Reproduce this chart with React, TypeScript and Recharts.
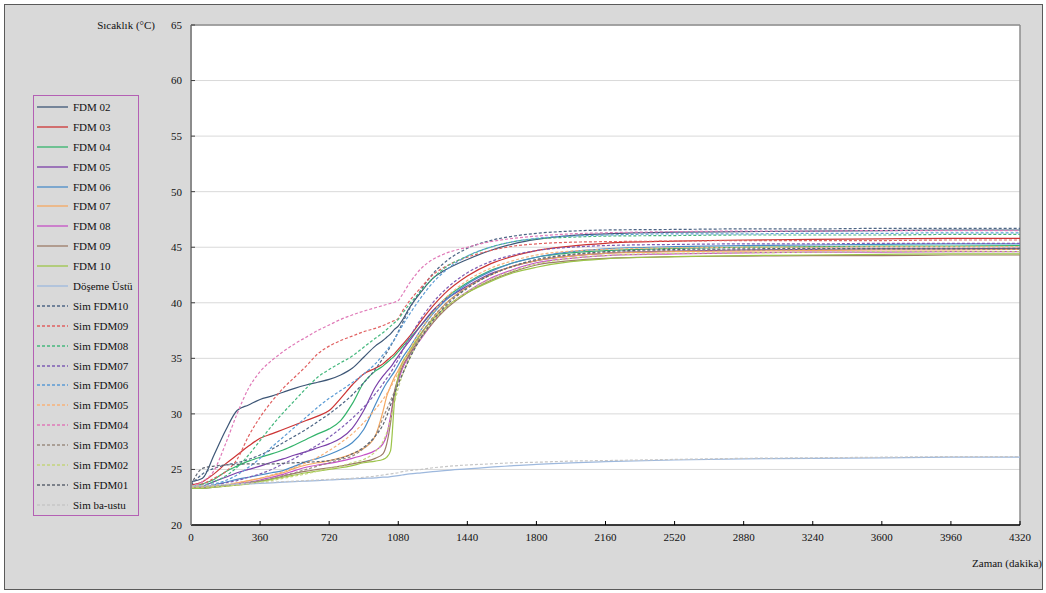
import { CartesianGrid, Legend, Line, LineChart, ReferenceLine, XAxis, YAxis } from 'recharts';

// zaman (dakika)
const times = [0, 60, 120, 180, 240, 300, 360, 420, 480, 540, 600, 660, 720, 780, 840, 900, 960, 1000, 1020, 1040, 1060, 1080, 1100, 1140, 1200, 1260, 1320, 1440, 1560, 1680, 1800, 1980, 2160, 2520, 2880, 3240, 3600, 3960, 4320];

const xTicks = [0, 360, 720, 1080, 1440, 1800, 2160, 2520, 2880, 3240, 3600, 3960, 4320];
const yTicks = [20, 25, 30, 35, 40, 45, 50, 55, 60, 65];

// ölçülen sıcaklıklar (°C)
const fdm02 = [23.9, 24.2, 26.3, 28.5, 30.3, 30.8, 31.3, 31.6, 31.95, 32.3, 32.6, 32.85, 33.1, 33.5, 34.1, 35.1, 36.1, 36.6, 36.9, 37.2, 37.6, 37.9, 38.4, 39.6, 41.0, 42.2, 42.9, 43.9, 44.7, 45.3, 45.7, 46.05, 46.2, 46.35, 46.4, 46.45, 46.5, 46.55, 46.55];
const fdm03 = [23.6, 23.9, 24.6, 25.5, 26.3, 27.1, 27.8, 28.2, 28.6, 29.0, 29.4, 29.8, 30.3, 31.4, 32.6, 33.6, 34.1, 34.5, 34.8, 35.1, 35.4, 35.8, 36.2, 37.0, 38.4, 39.7, 40.8, 42.4, 43.5, 44.2, 44.7, 45.1, 45.35, 45.55, 45.65, 45.7, 45.75, 45.8, 45.8];
const fdm04 = [23.4, 23.7, 24.1, 24.8, 25.3, 25.75, 26.1, 26.4, 26.75, 27.2, 27.7, 28.2, 28.65, 29.4, 30.9, 32.8, 33.85, 34.3, 34.6, 34.9, 35.2, 35.6, 36.0, 36.8, 38.0, 39.2, 40.3, 41.8, 42.9, 43.6, 44.1, 44.5, 44.7, 44.9, 45.0, 45.05, 45.1, 45.1, 45.15];
const fdm05 = [23.4, 23.5, 23.9, 24.3, 24.7, 25.0, 25.3, 25.65, 25.95, 26.3, 26.6, 26.95, 27.3, 27.8, 28.7, 30.3, 32.4, 33.4, 33.8, 34.2, 34.7, 35.2, 35.7, 36.6, 38.0, 39.3, 40.2, 41.5, 42.6, 43.3, 43.8, 44.2, 44.45, 44.65, 44.75, 44.8, 44.85, 44.85, 44.9];
const fdm06 = [23.4, 23.4, 23.6, 23.85, 24.1, 24.3, 24.5, 24.7, 24.9, 25.3, 25.7, 26.0, 26.35, 26.8, 27.4, 28.6, 30.8, 32.2, 32.8, 33.3, 33.8, 34.4, 35.0, 36.0, 37.6, 39.0, 40.1, 41.7, 42.8, 43.6, 44.1, 44.6, 44.85, 45.05, 45.15, 45.2, 45.25, 45.3, 45.3];
const fdm07 = [23.4, 23.4, 23.5, 23.6, 23.8, 24.0, 24.2, 24.45, 24.7, 25.1, 25.4, 25.6, 25.8, 26.05, 26.4, 26.9, 28.0, 30.2, 31.6, 32.5, 33.3, 33.9, 34.6, 35.6, 37.2, 38.6, 39.8, 41.4, 42.5, 43.3, 43.8, 44.2, 44.45, 44.6, 44.65, 44.7, 44.75, 44.75, 44.8];
const fdm08 = [23.3, 23.35, 23.45, 23.55, 23.7, 23.85, 24.05, 24.3, 24.55, 24.9, 25.2, 25.4, 25.55, 25.75, 26.0, 26.3, 26.7, 27.3, 28.1, 29.8, 31.8, 33.0, 34.0, 35.3, 36.8, 38.2, 39.4, 41.0, 42.2, 43.0, 43.6, 44.0, 44.25, 44.4, 44.5, 44.55, 44.55, 44.6, 44.6];
const fdm09 = [23.3, 23.3, 23.4, 23.5, 23.6, 23.75, 23.95, 24.15, 24.4, 24.65, 24.85, 25.0, 25.15, 25.3, 25.5, 25.7, 26.0, 26.4, 27.3, 29.2, 32.0, 33.2, 34.2, 35.4, 36.9, 38.2, 39.3, 40.9, 42.0, 42.8, 43.4, 43.8, 44.0, 44.15, 44.2, 44.25, 44.25, 44.3, 44.3];
const fdm10 = [23.3, 23.3, 23.4, 23.5, 23.6, 23.7, 23.9, 24.1, 24.3, 24.5, 24.7, 24.85, 25.0, 25.15, 25.35, 25.6, 25.75, 25.9, 26.1, 26.7, 31.0, 33.4, 34.5, 35.7, 37.3, 38.5, 39.5, 40.9, 41.9, 42.7, 43.2, 43.7, 43.95, 44.15, 44.25, 44.3, 44.35, 44.4, 44.4];
const doseme = [23.5, 23.5, 23.55, 23.6, 23.65, 23.7, 23.75, 23.8, 23.85, 23.9, 23.95, 24.0, 24.05, 24.1, 24.15, 24.2, 24.25, 24.3, 24.3, 24.35, 24.4, 24.45, 24.5, 24.6, 24.7, 24.8, 24.9, 25.05, 25.2, 25.35, 25.45, 25.6, 25.7, 25.85, 25.95, 26.0, 26.05, 26.1, 26.1];

// simülasyon sonuçları (°C)
const simFdm10 = [23.6, 24.6, 25.1, 25.4, 25.6, 25.9, 26.3, 26.8, 27.4, 28.0, 28.6, 29.3, 30.0, 30.8, 31.7, 32.8, 34.0, 35.0, 35.5, 36.1, 36.7, 37.4, 38.1, 39.5, 41.2, 42.6, 43.6, 44.9, 45.6, 46.0, 46.25, 46.45, 46.55, 46.6, 46.65, 46.65, 46.7, 46.7, 46.7];
const simFdm09 = [23.5, 23.7, 24.2, 24.8, 25.9, 28.0, 29.7, 31.1, 32.3, 33.3, 34.3, 35.4, 36.1, 36.6, 37.0, 37.4, 37.7, 37.95, 38.1, 38.25, 38.4, 38.6, 39.2, 40.2, 41.4, 42.5, 43.2, 44.1, 44.7, 45.1, 45.3, 45.45, 45.5, 45.55, 45.6, 45.6, 45.6, 45.65, 45.65];
const simFdm08 = [23.5, 23.6, 23.9, 24.4, 25.2, 26.3, 27.6, 28.9, 30.1, 31.2, 32.3, 33.3, 34.0, 34.6, 35.2, 36.0, 36.8, 37.3, 37.6, 37.9, 38.2, 38.5, 39.0, 39.9, 41.1, 42.2, 43.1, 44.2, 45.0, 45.5, 45.75, 45.9, 46.0, 46.05, 46.1, 46.1, 46.1, 46.15, 46.15];
const simFdm07 = [23.5, 23.5, 23.6, 23.8, 24.0, 24.3, 24.6, 25.0, 25.5, 26.0, 26.6, 27.2, 27.9, 28.7, 29.6, 30.6, 31.8, 32.7, 33.2, 33.7, 34.3, 34.9, 35.6, 36.9, 38.6, 40.0, 41.1, 42.7, 43.7, 44.3, 44.7, 45.0, 45.15, 45.25, 45.3, 45.3, 45.35, 45.35, 45.35];
const simFdm06 = [23.5, 23.55, 23.7, 24.0, 24.5, 25.2, 26.0, 27.0, 27.9, 28.8, 29.7, 30.6, 31.4, 32.1, 32.8, 33.6, 34.5, 35.3, 35.7, 36.2, 36.7, 37.3, 37.9, 39.0, 40.5, 41.8, 42.8, 44.2, 45.0, 45.5, 45.8, 46.0, 46.1, 46.2, 46.2, 46.25, 46.25, 46.3, 46.3];
const simFdm05 = [23.5, 23.5, 23.55, 23.65, 23.8, 24.0, 24.2, 24.5, 24.8, 25.2, 25.6, 26.1, 26.7, 27.4, 28.2, 29.2, 30.4, 31.3, 31.8, 32.4, 33.0, 33.7, 34.4, 35.8, 37.6, 39.1, 40.3, 42.0, 43.1, 43.8, 44.3, 44.65, 44.8, 44.95, 45.0, 45.0, 45.05, 45.05, 45.05];
const simFdm04 = [23.5, 23.9, 24.9, 27.3, 30.0, 32.3, 33.8, 34.8, 35.6, 36.3, 36.9, 37.5, 38.0, 38.5, 38.9, 39.25, 39.55, 39.75, 39.85, 39.95, 40.05, 40.2, 40.7, 41.8, 43.1, 43.9, 44.4, 45.0, 45.5, 45.8, 46.0, 46.2, 46.3, 46.4, 46.45, 46.45, 46.5, 46.5, 46.5];
const simFdm03 = [23.5, 23.5, 23.5, 23.6, 23.7, 23.85, 24.0, 24.2, 24.45, 24.7, 25.0, 25.3, 25.6, 25.9, 26.2, 26.9, 28.0, 29.6, 30.4, 31.2, 32.0, 32.8, 33.5, 35.2, 37.2, 38.7, 39.8, 41.4, 42.5, 43.3, 43.8, 44.3, 44.5, 44.7, 44.75, 44.8, 44.8, 44.8, 44.8];
const simFdm02 = [23.4, 23.4, 23.45, 23.5, 23.6, 23.7, 23.85, 24.0, 24.2, 24.4, 24.6, 24.85, 25.1, 25.3, 25.6, 25.9, 26.6, 27.5, 28.3, 29.5, 31.0, 32.3, 33.4, 35.0, 36.9, 38.3, 39.4, 41.0, 42.1, 42.9, 43.5, 44.0, 44.25, 44.45, 44.5, 44.55, 44.6, 44.6, 44.6];
const simFdm01 = [23.6, 25.1, 25.3, 25.4, 25.45, 25.5, 25.5, 25.5, 25.55, 25.6, 25.65, 25.7, 25.8, 26.0, 26.4, 27.0, 28.0, 29.0, 29.8, 30.8, 31.8, 32.7, 33.5, 35.0, 36.9, 38.4, 39.6, 41.3, 42.5, 43.3, 43.9, 44.35, 44.6, 44.8, 44.85, 44.9, 44.9, 44.9, 44.9];
const simBaUstu = [23.5, 23.55, 23.6, 23.65, 23.7, 23.75, 23.8, 23.85, 23.9, 23.95, 24.0, 24.05, 24.1, 24.15, 24.2, 24.3, 24.4, 24.5, 24.55, 24.6, 24.65, 24.7, 24.8, 24.9, 25.0, 25.15, 25.25, 25.4, 25.5, 25.6, 25.65, 25.75, 25.8, 25.9, 26.0, 26.05, 26.1, 26.15, 26.15];

const DASH = '3 2';

const series = [
  { key: 'fdm02', name: 'FDM 02', color: '#3d5676', values: fdm02 },
  { key: 'fdm03', name: 'FDM 03', color: '#cc3333', values: fdm03 },
  { key: 'fdm04', name: 'FDM 04', color: '#33b36b', values: fdm04 },
  { key: 'fdm05', name: 'FDM 05', color: '#7a3fa8', values: fdm05 },
  { key: 'fdm06', name: 'FDM 06', color: '#4a8cc7', values: fdm06 },
  { key: 'fdm07', name: 'FDM 07', color: '#f5a860', values: fdm07 },
  { key: 'fdm08', name: 'FDM 08', color: '#c54fc5', values: fdm08 },
  { key: 'fdm09', name: 'FDM 09', color: '#9b7a66', values: fdm09 },
  { key: 'fdm10', name: 'FDM 10', color: '#9cc44a', values: fdm10 },
  { key: 'doseme', name: 'Döşeme Üstü', color: '#9db8dd', values: doseme },
  { key: 'simFdm10', name: 'Sim FDM10', color: '#4d6585', values: simFdm10, dash: DASH },
  { key: 'simFdm09', name: 'Sim FDM09', color: '#e06060', values: simFdm09, dash: DASH },
  { key: 'simFdm08', name: 'Sim FDM08', color: '#45b87e', values: simFdm08, dash: DASH },
  { key: 'simFdm07', name: 'Sim FDM07', color: '#7e5cb4', values: simFdm07, dash: DASH },
  { key: 'simFdm06', name: 'Sim FDM06', color: '#5b9bd5', values: simFdm06, dash: DASH },
  { key: 'simFdm05', name: 'Sim FDM05', color: '#f7b27a', values: simFdm05, dash: DASH },
  { key: 'simFdm04', name: 'Sim FDM04', color: '#e07ab8', values: simFdm04, dash: DASH },
  { key: 'simFdm03', name: 'Sim FDM03', color: '#9a8c80', values: simFdm03, dash: DASH },
  { key: 'simFdm02', name: 'Sim FDM02', color: '#c4d47c', values: simFdm02, dash: DASH },
  { key: 'simFdm01', name: 'Sim FDM01', color: '#5e6470', values: simFdm01, dash: DASH },
  { key: 'simBaUstu', name: 'Sim ba-ustu', color: '#c6c6c6', values: simBaUstu, dash: DASH },
];

const rows = times.map((t, i) => {
  const r: Record<string, number> = { t };
  series.forEach((s) => {
    r[s.key] = s.values[i];
  });
  return r;
});

const FONT = '"Liberation Serif", "Times New Roman", "DejaVu Serif", serif';

function LegendBox(props: any) {
  // keep the series order, the legend payload comes back sorted by name
  const order = (name: string) => series.findIndex((s) => s.name === name);
  const payload = [...(props.payload || [])].sort((a: any, b: any) => order(a.value) - order(b.value));
  return (
    <div style={{ border: '1px solid #b460b4', background: '#d9d9d9', width: 104, paddingTop: 1, fontFamily: FONT }}>
      {payload.map((p: any) => {
        const s = series[order(p.value)];
        return (
          <div key={p.value} style={{ height: 19.9, display: 'flex', alignItems: 'center' }}>
            <svg width={36} height={6} style={{ marginLeft: 3, flex: 'none' }}>
              <line x1={0} x2={31} y1={3} y2={3} stroke={s ? s.color : p.color} strokeWidth={1.3} strokeDasharray={s?.dash} />
            </svg>
            <span style={{ fontSize: 11, color: '#111', whiteSpace: 'nowrap' }}>{p.value}</span>
          </div>
        );
      })}
    </div>
  );
}

export default function App() {
  return (
    <div style={{ position: 'relative', width: 1046, height: 593, background: '#fff', fontFamily: FONT }}>
      <style>{'body{margin:0}'}</style>
      <div style={{ position: 'absolute', left: 4, top: 4, width: 1037, height: 584, background: '#d9d9d9', border: '1px solid #5a5a5a' }} />
      <div style={{ position: 'absolute', left: 0, top: 0 }}>
        <LineChart width={1046} height={593} data={rows} margin={{ top: 25, right: 26, bottom: 38, left: 151 }}>
          <CartesianGrid vertical={false} stroke="#d9d9d9" fill="#ffffff" />
          <ReferenceLine y={65} stroke="#8c8c8c" strokeWidth={1.5} />
          <ReferenceLine x={4320} stroke="#8c8c8c" strokeWidth={1.5} />
          <XAxis
            dataKey="t"
            type="number"
            domain={[0, 4320]}
            ticks={xTicks}
            interval={0}
            height={30}
            tickSize={-4}
            tickMargin={12}
            axisLine={{ stroke: '#000', strokeWidth: 1.3 }}
            tickLine={{ stroke: '#000' }}
            tick={{ fontSize: 11, fill: '#111', fontFamily: FONT }}
          />
          <YAxis
            type="number"
            domain={[20, 65]}
            ticks={yTicks}
            interval={0}
            width={40}
            tickSize={-4}
            tickMargin={13}
            axisLine={{ stroke: '#8c8c8c', strokeWidth: 2 }}
            tickLine={{ stroke: '#404040' }}
            tick={{ fontSize: 11, fill: '#111', fontFamily: FONT }}
          />
          {series.map((s) => (
            <Line
              key={s.key}
              type="monotone"
              dataKey={s.key}
              name={s.name}
              stroke={s.color}
              strokeWidth={1.2}
              strokeDasharray={s.dash}
              dot={false}
              activeDot={false}
              isAnimationActive={false}
            />
          ))}
          <Legend
            layout="vertical"
            align="center"
            verticalAlign="middle"
            content={(p: any) => <LegendBox {...p} />}
            wrapperStyle={{ left: 33, top: 95, width: 106, bottom: 'auto', right: 'auto' }}
          />
        </LineChart>
      </div>
      <div style={{ position: 'absolute', left: 0, top: 18, width: 155, textAlign: 'right', fontSize: 11, lineHeight: '14px', color: '#111' }}>
        Sıcaklık (°C)
      </div>
      <div style={{ position: 'absolute', left: 0, top: 556, width: 1042, textAlign: 'right', fontSize: 11, lineHeight: '14px', color: '#111' }}>
        Zaman (dakika)
      </div>
    </div>
  );
}
